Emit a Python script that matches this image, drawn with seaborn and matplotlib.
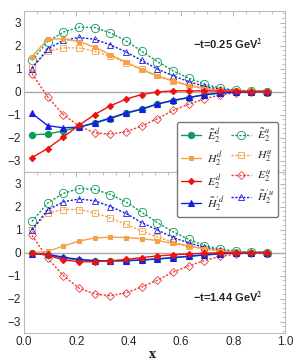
import numpy as np
import matplotlib
matplotlib.use("Agg")
import matplotlib.pyplot as plt
import seaborn as sns
from matplotlib.ticker import MultipleLocator

sns.set_style("white")
plt.rcParams['font.family'] = ['Liberation Sans', 'DejaVu Sans']
plt.rcParams['mathtext.fontset'] = 'stix'

x = [0.03, 0.09, 0.15, 0.21, 0.27, 0.33, 0.39, 0.45, 0.51, 0.57, 0.63, 0.69, 0.75, 0.81, 0.87, 0.93]

# -t = 0.25 GeV^2
Etd_a = [-1.88, -1.85, -1.71, -1.55, -1.38, -1.18, -0.95, -0.78, -0.55, -0.40, -0.27, -0.14, -0.06, -0.02, 0.0, 0.0]
Hd_a = [1.52, 2.27, 2.29, 2.17, 1.93, 1.60, 1.28, 0.95, 0.67, 0.45, 0.25, 0.12, 0.05, 0.02, 0.01, 0.0]
Ed_a = [-2.87, -2.48, -1.98, -1.47, -1.00, -0.62, -0.33, -0.13, -0.02, 0.03, 0.03, 0.03, 0.02, 0.01, 0.0, 0.0]
Htd_a = [-0.95, -1.48, -1.58, -1.55, -1.36, -1.15, -0.93, -0.76, -0.54, -0.38, -0.26, -0.14, -0.07, -0.03, -0.01, 0.0]
Etu_a = [1.35, 2.17, 2.58, 2.80, 2.78, 2.55, 2.20, 1.75, 1.30, 0.90, 0.58, 0.32, 0.15, 0.06, 0.02, 0.0]
Hu_a = [1.05, 1.75, 1.90, 1.90, 1.75, 1.53, 1.25, 0.97, 0.70, 0.47, 0.28, 0.15, 0.07, 0.03, 0.01, 0.0]
Eu_a = [0.78, -0.23, -1.00, -1.50, -1.80, -1.85, -1.75, -1.50, -1.18, -0.82, -0.55, -0.32, -0.15, -0.06, -0.02, 0.0]
Htu_a = [1.00, 1.85, 2.22, 2.35, 2.27, 2.03, 1.72, 1.35, 0.98, 0.68, 0.43, 0.22, 0.10, 0.04, 0.01, 0.0]

# -t = 1.44 GeV^2
Etd_b = [-0.03, -0.10, -0.25, -0.32, -0.36, -0.37, -0.36, -0.33, -0.28, -0.23, -0.17, -0.11, -0.06, -0.02, -0.01, 0.0]
Hd_b = [0.0, 0.05, 0.28, 0.50, 0.63, 0.67, 0.65, 0.60, 0.52, 0.40, 0.28, 0.17, 0.08, 0.03, 0.01, 0.0]
Ed_b = [-0.02, -0.12, -0.32, -0.40, -0.40, -0.36, -0.30, -0.22, -0.15, -0.10, -0.06, -0.03, -0.01, 0.0, 0.0, 0.0]
Htd_b = [-0.05, -0.08, -0.20, -0.30, -0.35, -0.36, -0.35, -0.32, -0.28, -0.22, -0.16, -0.10, -0.05, -0.02, -0.01, 0.0]
Etu_b = [1.35, 2.15, 2.57, 2.78, 2.75, 2.52, 2.20, 1.75, 1.30, 0.90, 0.57, 0.30, 0.15, 0.06, 0.02, 0.0]
Hu_b = [1.00, 1.72, 1.87, 1.87, 1.72, 1.50, 1.22, 0.93, 0.68, 0.45, 0.28, 0.14, 0.06, 0.02, 0.0, 0.0]
Eu_b = [0.75, -0.25, -1.00, -1.55, -1.80, -1.88, -1.75, -1.50, -1.20, -0.85, -0.58, -0.35, -0.17, -0.07, -0.02, 0.0]
Htu_b = [0.98, 1.85, 2.20, 2.33, 2.25, 2.00, 1.70, 1.30, 0.98, 0.65, 0.42, 0.22, 0.10, 0.04, 0.01, 0.0]

labels = [r'$\tilde{E}_2^d$', r'$H_2^d$', r'$E_2^d$', r"$\tilde{H}_2^{\prime d}$",
          r'$\tilde{E}_2^u$', r'$H_2^u$', r'$E_2^u$', r"$\tilde{H}_2^{\prime u}$"]
annots = ['\u2212t=0.25 GeV$^\\mathbf{2}$', '\u2212t=1.44 GeV$^\\mathbf{2}$']

GREEN = '#0f9a5a'
ORANGE = '#f7a046'
RED = '#ee1111'
RED_U = '#f03a3a'
BLUE = '#1a1ae6'
colors = [GREEN, ORANGE, RED, BLUE, GREEN, ORANGE, RED_U, BLUE]
markers = ['o', 's', 'D', '^', 'o', 's', 'D', '^']
msizes = [4.5, 3.2, 3.2, 4.0, 6.0, 4.2, 4.0, 4.6]
dots = (1.6, 1.2)

fig = plt.figure(figsize=(3.05, 3.61), dpi=100)
ax1 = fig.add_axes([0.079, 0.5235, 0.857, 0.446])
ax2 = fig.add_axes([0.079, 0.0775, 0.857, 0.446])

sets = [[Etd_a, Hd_a, Ed_a, Htd_a, Etu_a, Hu_a, Eu_a, Htu_a],
        [Etd_b, Hd_b, Ed_b, Htd_b, Etu_b, Hu_b, Eu_b, Htu_b]]

for ax, data, ann, ay in zip([ax1, ax2], sets, annots, [2.03, -1.97]):
    ax.axhline(0, color='#aaaaaa', lw=1.0, zorder=1)
    order = [4, 6, 5, 7, 1, 0, 3, 2]
    for i in order:
        y = data[i]
        filled = i < 4
        kw = dict(color=colors[i], marker=markers[i], markersize=msizes[i], lw=1.0,
                  label=labels[i], ax=ax, zorder=3 if filled else 2)
        if filled:
            kw.update(markerfacecolor=colors[i], markeredgecolor=colors[i])
        else:
            kw.update(markerfacecolor='none', markeredgecolor=colors[i], markeredgewidth=0.6,
                      dashes=dots)
        sns.lineplot(x=x, y=y, **kw)
    ax.set_xlim(0, 1.0)
    ax.set_ylim(-3.5, 3.5)
    ax.yaxis.set_major_locator(MultipleLocator(1))
    ax.yaxis.set_minor_locator(MultipleLocator(0.2))
    ax.xaxis.set_major_locator(MultipleLocator(0.2))
    ax.xaxis.set_minor_locator(MultipleLocator(0.05))
    ax.tick_params(which='both', direction='in', top=True, right=True, color='#aaaaaa',
                   labelsize=8.5, pad=2)
    ax.tick_params(which='major', length=3.5, width=0.6)
    ax.tick_params(which='minor', length=2, width=0.5)
    for s in ax.spines.values():
        s.set_color('#bbbbbb')
        s.set_linewidth(0.8)
    ax.set_ylabel('')
    ax.text(0.78, ay, ann, ha='center', va='center', fontsize=8, fontweight='bold')
    if ax.get_legend():
        ax.get_legend().remove()

ax1.tick_params(labelbottom=False)
ax2.set_xlabel('x', fontsize=8.5, fontweight='bold', family='DejaVu Serif', labelpad=0)
ax2.xaxis.set_label_coords(0.49, -0.09)

h, l = ax1.get_legend_handles_labels()
lut = dict(zip(l, h))
fig.legend([lut[k] for k in labels], labels, ncol=2, loc='center',
           bbox_to_anchor=(0.746, 0.5305), frameon=True, fontsize=8.5,
           handlelength=1.7, columnspacing=0.6, labelspacing=0.32,
           borderpad=0.4, handletextpad=0.45, borderaxespad=0,
           edgecolor='#777777', framealpha=1, fancybox=True)

fig.savefig('out.png', dpi=100)
